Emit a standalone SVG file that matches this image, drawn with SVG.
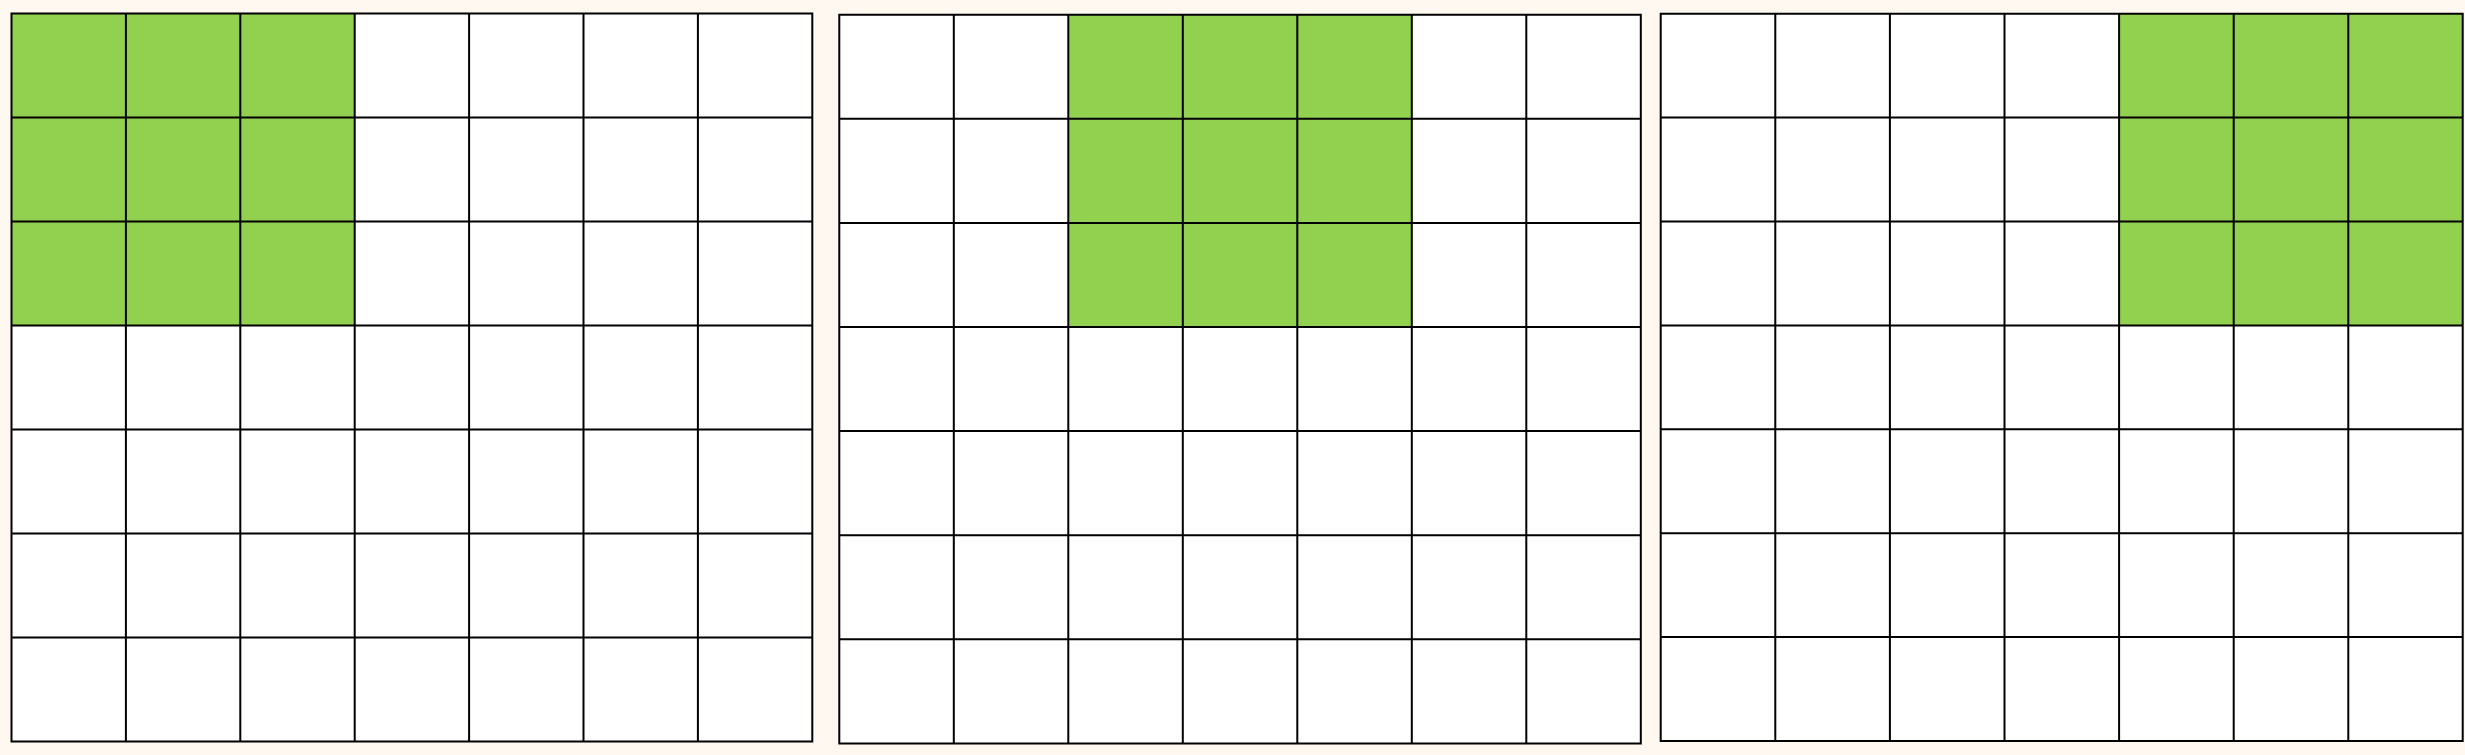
<svg xmlns="http://www.w3.org/2000/svg" width="2465" height="755" viewBox="0 0 2465 755">
<style>
.bg{fill:#FFF8F1}
.board{fill:#FFFFFF}
.hi{fill:#92D050}
.grid{fill:none;stroke:#000000;stroke-width:2}
</style>
<rect class="bg" x="0" y="0" width="2465" height="755"/>
<g id="grid1">
<rect class="board" x="11.5" y="13.5" width="800.8" height="728"/>
<rect class="hi" x="11.5" y="13.5" width="343.2" height="312"/>
<path class="grid" d="M11.5 13.5H812.3V741.5H11.5Z M125.9 13.5V741.5 M240.3 13.5V741.5 M354.7 13.5V741.5 M469.1 13.5V741.5 M583.5 13.5V741.5 M697.9 13.5V741.5 M11.5 117.5H812.3 M11.5 221.5H812.3 M11.5 325.5H812.3 M11.5 429.5H812.3 M11.5 533.5H812.3 M11.5 637.5H812.3"/>
</g>
<g id="grid2">
<rect class="board" x="839.3" y="14.7" width="801.5" height="728.7"/>
<rect class="hi" x="1068.3" y="14.7" width="343.5" height="312.3"/>
<path class="grid" d="M839.3 14.7H1640.8V743.4H839.3Z M953.8 14.7V743.4 M1068.3 14.7V743.4 M1182.8 14.7V743.4 M1297.3 14.7V743.4 M1411.8 14.7V743.4 M1526.3 14.7V743.4 M839.3 118.8H1640.8 M839.3 222.9H1640.8 M839.3 327H1640.8 M839.3 431.1H1640.8 M839.3 535.2H1640.8 M839.3 639.3H1640.8"/>
</g>
<g id="grid3">
<rect class="board" x="1660.7" y="13.7" width="802" height="727.3"/>
<rect class="hi" x="2119.1" y="13.7" width="343.6" height="311.7"/>
<path class="grid" d="M1660.7 13.7H2462.7V741H1660.7Z M1775.3 13.7V741 M1889.9 13.7V741 M2004.5 13.7V741 M2119.1 13.7V741 M2233.7 13.7V741 M2348.3 13.7V741 M1660.7 117.6H2462.7 M1660.7 221.5H2462.7 M1660.7 325.4H2462.7 M1660.7 429.3H2462.7 M1660.7 533.2H2462.7 M1660.7 637.1H2462.7"/>
</g>
<g id="connectors"></g>
</svg>
